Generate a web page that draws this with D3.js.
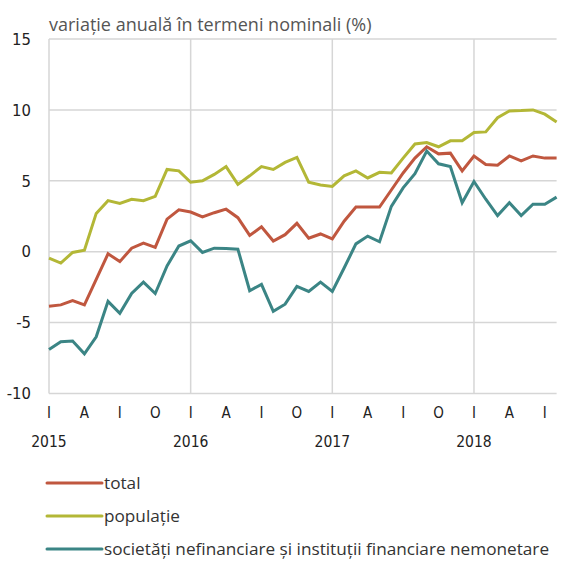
<!DOCTYPE html>
<html>
<head>
<meta charset="utf-8">
<script src="https://cdn.jsdelivr.net/npm/d3@7"></script>
<style>
  html, body { margin: 0; padding: 0; background: #fff; }
  svg { display: block; }
</style>
</head>
<body>
<svg id="chart" width="564" height="561"></svg>
<script>
// ---------- data (monthly, Jan 2015 .. Aug 2018) ----------
const quarterLabels = ["I", "A", "I", "O"];
const yearLabels = ["2015", "2016", "2017", "2018"];
const yTicks = [-10, -5, 0, 5, 10, 15];

const total = [-3.85, -3.75, -3.45, -3.75, -1.95, -0.15, -0.7, 0.25, 0.6, 0.3, 2.3, 2.95,
  2.8, 2.45, 2.75, 3.0, 2.4, 1.15, 1.75, 0.75, 1.2, 2.0, 0.95, 1.25,
  0.9, 2.15, 3.15, 3.15, 3.15, 4.35, 5.55, 6.6, 7.4, 6.9, 6.95, 5.7,
  6.75, 6.15, 6.1, 6.75, 6.4, 6.75, 6.6, 6.6];

const populatie = [-0.45, -0.8, -0.05, 0.1, 2.7, 3.6, 3.4, 3.7, 3.6, 3.9, 5.8, 5.7,
  4.9, 5.0, 5.45, 6.0, 4.75, 5.35, 6.0, 5.8, 6.3, 6.65, 4.9, 4.7,
  4.6, 5.35, 5.7, 5.2, 5.6, 5.55, 6.6, 7.6, 7.7, 7.4, 7.82, 7.82,
  8.4, 8.45, 9.45, 9.93, 9.95, 10.0, 9.7, 9.15];

const societati = [-6.9, -6.35, -6.3, -7.2, -6.0, -3.5, -4.35, -2.95, -2.15, -2.95, -1.0, 0.4,
  0.77, -0.05, 0.25, 0.22, 0.18, -2.75, -2.3, -4.2, -3.7, -2.45, -2.8, -2.15,
  -2.8, -1.15, 0.55, 1.1, 0.7, 3.2, 4.5, 5.5, 7.1, 6.2, 6.0, 3.45,
  4.95, 3.7, 2.55, 3.45, 2.55, 3.35, 3.35, 3.85];

const series = [
  { name: "total", values: total, color: "#c0573f" },
  { name: "populație", values: populatie, color: "#b3b736" },
  { name: "societăți nefinanciare și instituții financiare nemonetare", values: societati, color: "#3b8585" },
];

// ---------- layout ----------
const svg = d3.select("#chart");
const m = { left: 49, right: 556.6, top: 39, bottom: 393.5 };
const condensed = "'Liberation Sans Narrow', 'DejaVu Sans Condensed', 'Roboto Condensed', sans-serif";
const regular = "'Open Sans', 'Noto Sans', sans-serif";
const gridColor = "#d6d6d6";

const nMonths = total.length;
const x = d3.scaleLinear().domain([0, nMonths - 1]).range([m.left, m.right]);
const y = d3.scaleLinear().domain([-10, 15]).range([m.bottom, m.top]);

// title
svg.append("text")
  .attr("x", m.left).attr("y", 31)
  .attr("font-family", regular).attr("font-size", 18)
  .attr("fill", "#555")
  .text("variație anuală în termeni nominali (%)");

// horizontal grid
svg.append("g").selectAll("line")
  .data(yTicks)
  .join("line")
  .attr("x1", m.left).attr("x2", m.right)
  .attr("y1", d => y(d)).attr("y2", d => y(d))
  .attr("stroke", gridColor).attr("stroke-width", 1.5);

// vertical grid at each January
const janIdx = d3.range(0, nMonths, 12);
svg.append("g").selectAll("line")
  .data(janIdx)
  .join("line")
  .attr("x1", d => x(d)).attr("x2", d => x(d))
  .attr("y1", m.top).attr("y2", m.bottom)
  .attr("stroke", gridColor).attr("stroke-width", 1.5);

// y labels
svg.append("g").selectAll("text")
  .data(yTicks)
  .join("text")
  .attr("x", 31).attr("y", d => y(d))
  .attr("dy", "0.35em")
  .attr("text-anchor", "end")
  .attr("font-family", condensed).attr("font-size", 16.5)
  .attr("fill", "#222")
  .text(d => d);

// x quarter labels
const qIdx = d3.range(0, nMonths, 3);
svg.append("g").selectAll("text")
  .data(qIdx)
  .join("text")
  .attr("x", d => x(d)).attr("y", 418)
  .attr("text-anchor", "middle")
  .attr("font-family", condensed).attr("font-size", 15)
  .attr("fill", "#222")
  .text(d => quarterLabels[(d / 3) % 4]);

// year labels
svg.append("g").selectAll("text")
  .data(yearLabels)
  .join("text")
  .attr("x", (d, i) => x(i * 12)).attr("y", 447)
  .attr("text-anchor", "middle")
  .attr("font-family", condensed).attr("font-size", 15.5)
  .attr("fill", "#222")
  .text(d => d);

// lines
const line = d3.line()
  .x((d, i) => x(i))
  .y(d => y(d));

svg.append("g").selectAll("path")
  .data(series)
  .join("path")
  .attr("d", d => line(d.values))
  .attr("fill", "none")
  .attr("stroke", d => d.color)
  .attr("stroke-width", 3)
  .attr("stroke-linejoin", "miter");

// legend
const lg = svg.append("g").selectAll("g")
  .data(series)
  .join("g")
  .attr("transform", (d, i) => `translate(47,${483 + i * 33})`);

lg.append("line")
  .attr("x1", 0).attr("x2", 55)
  .attr("stroke", d => d.color)
  .attr("stroke-width", 3)
  .attr("stroke-linecap", "round");

lg.append("text")
  .attr("x", 57).attr("dy", "0.32em")
  .attr("font-family", regular).attr("font-size", 17.2)
  .attr("fill", "#333")
  .text(d => d.name);
</script>
</body>
</html>
